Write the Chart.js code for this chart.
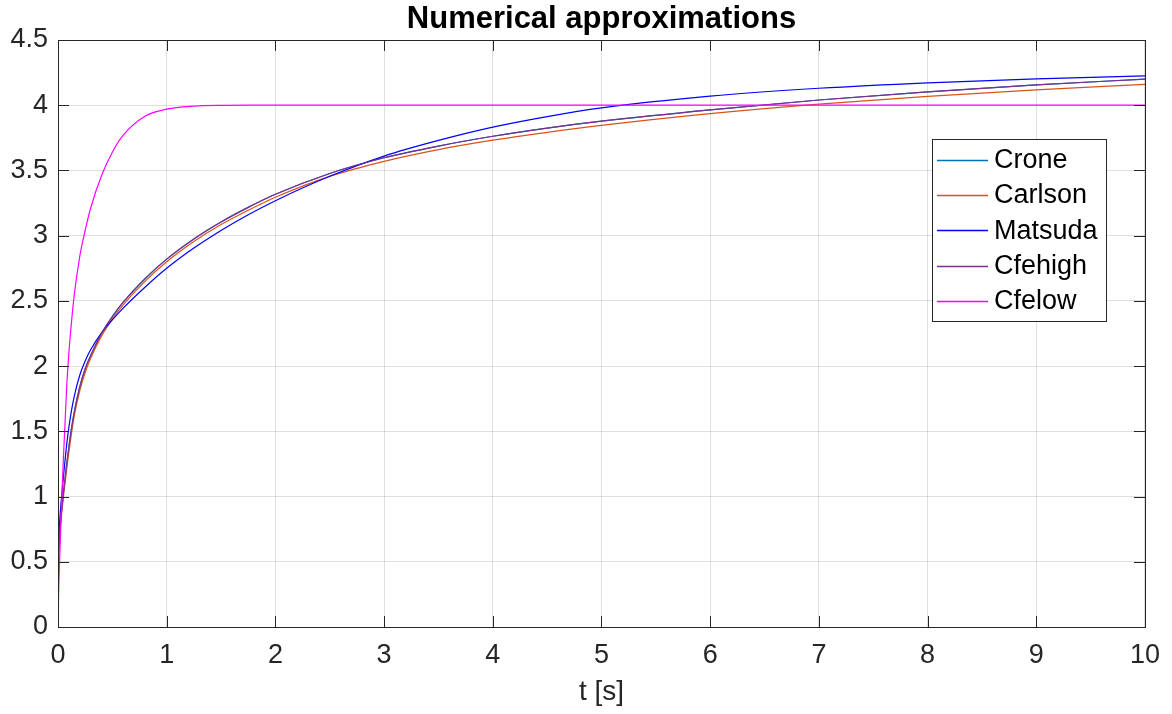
<!DOCTYPE html>
<html>
<head>
<meta charset="utf-8">
<script src="https://cdn.jsdelivr.net/npm/chart.js@4.4.1/dist/chart.umd.min.js"></script>
<style>
  html, body { margin: 0; padding: 0; background: #ffffff; }
  #wrap { width: 1172px; height: 714px; }
</style>
</head>
<body>
<div id="wrap"><canvas id="c" width="1172" height="714"></canvas></div>
<script>
// ---- data ----
const chartTitle = 'Numerical approximations';
const xLabel = 't [s]';
const seriesNames = ['Crone', 'Carlson', 'Matsuda', 'Cfehigh', 'Cfelow'];
const seriesColors = ['#0072BD', '#D95319', '#0000FF', '#7E2F8E', '#FF00FF'];

const tValues = [0, 0.005, 0.015, 0.03, 0.05, 0.08, 0.1, 0.12, 0.15, 0.2, 0.25, 0.3, 0.4, 0.5, 0.6, 0.8,
                 1.0, 1.25, 1.5, 1.75, 2.0, 2.5, 3.0, 3.5, 4.0, 4.5, 5.0, 6.0, 7.0, 8.0, 9.0, 10.0];

const crone   = [0.28, 0.55, 0.72, 0.86, 1.03, 1.25, 1.38, 1.5, 1.65, 1.84, 1.98, 2.08, 2.25, 2.38, 2.49, 2.67,
                 2.82, 2.975, 3.105, 3.217, 3.317, 3.477, 3.597, 3.687, 3.762, 3.825, 3.878, 3.965, 4.04, 4.103, 4.156, 4.2];
const carlson = [0.28, 0.53, 0.7, 0.84, 1.0, 1.21, 1.34, 1.46, 1.62, 1.81, 1.95, 2.06, 2.23, 2.36, 2.47, 2.65,
                 2.8, 2.955, 3.085, 3.195, 3.295, 3.455, 3.57, 3.66, 3.732, 3.792, 3.845, 3.935, 4.008, 4.068, 4.117, 4.16];
const matsuda = [0.28, 0.6, 0.8, 0.97, 1.15, 1.4, 1.53, 1.64, 1.77, 1.93, 2.04, 2.125, 2.255, 2.355, 2.445, 2.605,
                 2.75, 2.905, 3.04, 3.16, 3.268, 3.455, 3.61, 3.73, 3.832, 3.913, 3.98, 4.07, 4.13, 4.172, 4.202, 4.225];
const cfehigh = [0.28, 0.55, 0.72, 0.86, 1.03, 1.25, 1.38, 1.5, 1.65, 1.84, 1.98, 2.08, 2.25, 2.38, 2.49, 2.67,
                 2.82, 2.975, 3.105, 3.217, 3.317, 3.477, 3.597, 3.687, 3.762, 3.825, 3.878, 3.965, 4.04, 4.103, 4.156, 4.2];
const cfelow  = [0, 0.24, 0.52, 0.88, 1.3, 1.84, 2.1, 2.3, 2.55, 2.84, 3.04, 3.21, 3.46, 3.64, 3.77, 3.915,
                 3.97, 3.993, 3.999, 4.0, 4.0, 4.0, 4.0, 4.0, 4.0, 4.0, 4.0, 4.0, 4.0, 4.0, 4.0, 4.0];

const xTicks = [0, 1, 2, 3, 4, 5, 6, 7, 8, 9, 10];
const yTicks = [0, 0.5, 1, 1.5, 2, 2.5, 3, 3.5, 4, 4.5];

// ---- styling ----
const FONT = '"Liberation Sans", Arial, Helvetica, sans-serif';
const AXIS_COLOR = '#262626';
const GRID_COLOR = 'rgba(38,38,38,0.15)';
const TICK_FONT_SIZE = 27;

const allSeries = [crone, carlson, matsuda, cfehigh, cfelow];
const datasets = allSeries.map((vals, i) => ({
  label: seriesNames[i],
  data: tValues.map((t, k) => ({ x: t, y: vals[k] })),
  borderColor: seriesColors[i],
  backgroundColor: seriesColors[i],
  borderWidth: 1.2,
  pointRadius: 0,
  fill: false,
  cubicInterpolationMode: 'monotone',
  order: allSeries.length - i   // later series drawn on top, like the reference
}));

const decorations = {
  id: 'decorations',
  afterDatasetsDraw(chart) {
    const { ctx, chartArea: a, scales: { x, y } } = chart;
    ctx.save();
    // inward tick marks on all four sides
    ctx.strokeStyle = AXIS_COLOR;
    ctx.lineWidth = 1;
    const TL = 11;
    ctx.beginPath();
    xTicks.forEach(v => {
      const px = Math.round(x.getPixelForValue(v)) + 0.5;
      ctx.moveTo(px, a.bottom); ctx.lineTo(px, a.bottom - TL);
      ctx.moveTo(px, a.top); ctx.lineTo(px, a.top + TL);
    });
    yTicks.forEach(v => {
      const py = Math.round(y.getPixelForValue(v)) + 0.5;
      ctx.moveTo(a.left, py); ctx.lineTo(a.left + TL, py);
      ctx.moveTo(a.right, py); ctx.lineTo(a.right - TL, py);
    });
    ctx.stroke();
    // box
    ctx.strokeRect(Math.round(a.left) + 0.5, Math.round(a.top) + 0.5,
                   Math.round(a.right - a.left), Math.round(a.bottom - a.top));

    // legend
    const lx = 932, ly = 139, lw = 174, lh = 182;
    ctx.fillStyle = '#ffffff';
    ctx.fillRect(lx, ly, lw, lh);
    ctx.strokeStyle = AXIS_COLOR;
    ctx.lineWidth = 1;
    ctx.strokeRect(lx + 0.5, ly + 0.5, lw, lh);
    ctx.font = TICK_FONT_SIZE + 'px ' + FONT;
    ctx.textBaseline = 'middle';
    ctx.textAlign = 'left';
    seriesNames.forEach((name, i) => {
      const cy = ly + 20.5 + i * 35.35;
      ctx.strokeStyle = seriesColors[i];
      ctx.lineWidth = 1.3;
      ctx.beginPath();
      ctx.moveTo(lx + 5, Math.round(cy) + 0.5);
      ctx.lineTo(lx + 56, Math.round(cy) + 0.5);
      ctx.stroke();
      ctx.fillStyle = '#000000';
      ctx.fillText(name, lx + 62, cy + 1);
    });

    // title
    ctx.fillStyle = '#000000';
    ctx.font = 'bold 31px ' + FONT;
    ctx.textAlign = 'center';
    ctx.textBaseline = 'middle';
    ctx.fillText(chartTitle, (a.left + a.right) / 2, 19);

    // x label
    ctx.fillStyle = AXIS_COLOR;
    ctx.font = (TICK_FONT_SIZE + 1) + 'px ' + FONT;
    ctx.fillText(xLabel, (a.left + a.right) / 2, 692);
    ctx.restore();
  }
};

new Chart(document.getElementById('c'), {
  type: 'line',
  data: { datasets },
  options: {
    responsive: false,
    devicePixelRatio: 1,
    animation: false,
    layout: { padding: { top: 40, right: 25, left: 0, bottom: 0 } },
    plugins: {
      legend: { display: false },
      title: { display: false },
      tooltip: { enabled: false }
    },
    scales: {
      x: {
        type: 'linear',
        min: 0, max: 10,
        afterFit: s => { s.height = 87; },
        afterBuildTicks: s => { s.ticks = xTicks.map(v => ({ value: v })); },
        grid: { color: GRID_COLOR, drawTicks: false, lineWidth: 1 },
        border: { display: false },
        ticks: {
          padding: 12,
          color: AXIS_COLOR,
          font: { family: FONT, size: TICK_FONT_SIZE },
          maxRotation: 0,
          callback: v => String(v)
        }
      },
      y: {
        type: 'linear',
        min: 0, max: 4.5,
        afterFit: s => { s.width = 58; },
        afterBuildTicks: s => { s.ticks = yTicks.map(v => ({ value: v })); },
        grid: { color: GRID_COLOR, drawTicks: false, lineWidth: 1 },
        border: { display: false },
        ticks: {
          padding: 10,
          color: AXIS_COLOR,
          font: { family: FONT, size: TICK_FONT_SIZE },
          callback: v => String(+v.toFixed(1))
        }
      }
    }
  },
  plugins: [decorations]
});
</script>
</body>
</html>
